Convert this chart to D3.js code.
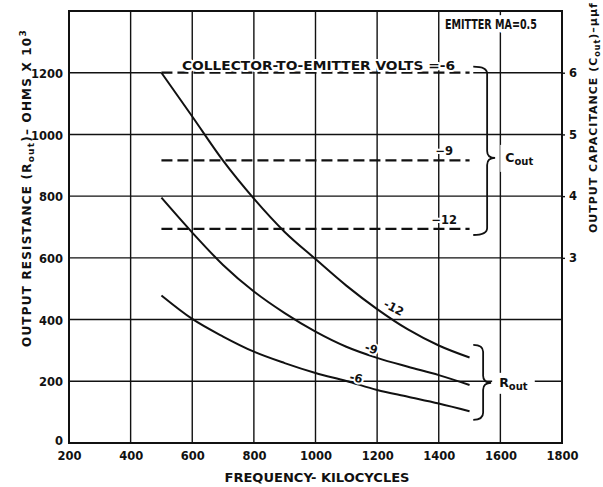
<!DOCTYPE html>
<html>
<head>
<meta charset="utf-8">
<script src="https://cdn.jsdelivr.net/npm/d3@7"></script>
<style>
  body { margin: 0; background: #fff; }
  svg { display: block; font-family: "DejaVu Sans", sans-serif; font-weight: bold; }
</style>
</head>
<body>
<div id="chart"></div>
<script>
////////////////////////////////////////////////////////////////
// Data
const freqs = [500, 600, 700, 800, 900, 1000, 1100, 1200, 1300, 1400, 1500]; // kc
const rout6 = [478, 402, 345, 296, 259, 227, 201, 172, 150, 128, 103];       // ohms x 10^3
const rout9 = [795, 682, 577, 491, 421, 361, 312, 276, 247, 220, 188];
const rout12 = [1200, 1058, 915, 792, 684, 596, 510, 434, 368, 316, 277];
const voltNames = ["-6", "-9", "-12"];
const coutPf = [6.0, 4.58, 3.47];          // output capacitance, uuf
const coutFreqs = [500, 1500];             // span of the dashed lines
const xTicks = [200, 400, 600, 800, 1000, 1200, 1400, 1600, 1800];
const yTicks = [0, 200, 400, 600, 800, 1000, 1200];
const capTicks = [3, 4, 5, 6];

////////////////////////////////////////////////////////////////
// Layout
const width = 603, height = 487;
const margin = { top: 11, right: 41, bottom: 44, left: 69 };
const x = d3.scaleLinear([200, 1800], [margin.left, width - margin.right]);
const y = d3.scaleLinear([0, 1400], [height - margin.bottom, margin.top]);
const yCap = d3.scaleLinear([0, 7], [height - margin.bottom, margin.top]);
const ink = "#111";

const svg = d3.select("#chart").append("svg")
  .attr("width", width).attr("height", height)
  .attr("viewBox", [0, 0, width, height]);

svg.append("rect").attr("width", width).attr("height", height).attr("fill", "#fff");

// white halo so labels break the grid like on the original sheet
const halo = (sel, w = 5) => sel
  .attr("stroke", "#fff").attr("stroke-width", w)
  .attr("paint-order", "stroke").attr("stroke-linejoin", "round");

////////////////////////////////////////////////////////////////
// Grid
svg.append("g").selectAll("line")
  .data(yTicks.slice(1))
  .join("line")
  .attr("x1", x(200)).attr("x2", x(1800))
  .attr("y1", d => y(d)).attr("y2", d => y(d))
  .attr("stroke", ink).attr("stroke-width", 1.4);

// the -6 capacitance line sits on the 1200 grid line: blank it out underneath
svg.append("line")
  .attr("x1", x(coutFreqs[0])).attr("x2", x(1512))
  .attr("y1", yCap(coutPf[0])).attr("y2", yCap(coutPf[0]))
  .attr("stroke", "#fff").attr("stroke-width", 4);

svg.append("g").selectAll("line")
  .data(xTicks.slice(1, -1))
  .join("line")
  .attr("x1", d => x(d)).attr("x2", d => x(d))
  .attr("y1", y(0)).attr("y2", y(1400))
  .attr("stroke", ink).attr("stroke-width", 1.4);

// frame
svg.append("rect")
  .attr("x", x(200)).attr("y", y(1400))
  .attr("width", x(1800) - x(200)).attr("height", y(0) - y(1400))
  .attr("fill", "none").attr("stroke", ink).attr("stroke-width", 2);

////////////////////////////////////////////////////////////////
// Axes labels
const axL = svg.append("g")
  .attr("transform", `translate(${margin.left},0)`)
  .call(d3.axisLeft(y).tickValues(yTicks).tickSize(0).tickPadding(6).tickFormat(d3.format("d")));
axL.select(".domain").remove();
axL.selectAll(".tick text").attr("dy", d => d === 0 ? "0.15em" : "0.4em");

const axB = svg.append("g")
  .attr("transform", `translate(0,${y(0)})`)
  .call(d3.axisBottom(x).tickValues(xTicks).tickSize(0).tickPadding(9).tickFormat(d3.format("d")));
axB.select(".domain").remove();

const axR = svg.append("g")
  .attr("transform", `translate(${x(1800)},0)`)
  .call(d3.axisRight(yCap).tickValues(capTicks).tickSize(3).tickPadding(4).tickFormat(d3.format("d")));
axR.select(".domain").remove();
axR.selectAll("line").attr("stroke", ink).attr("stroke-width", 1.4);

svg.selectAll(".tick text")
  .attr("fill", ink)
  .style("font-family", "DejaVu Sans")
  .style("font-weight", "bold")
  .style("font-size", "11.5px");

////////////////////////////////////////////////////////////////
// Capacitance (dashed) lines
const cout = voltNames.map((v, i) => ({ name: v, pf: coutPf[i] }));

svg.append("g").selectAll("line")
  .data(cout)
  .join("line")
  .attr("x1", x(coutFreqs[0])).attr("x2", x(coutFreqs[1]))
  .attr("y1", d => yCap(d.pf)).attr("y2", d => yCap(d.pf))
  .attr("stroke", ink).attr("stroke-width", 2.2)
  .attr("stroke-dasharray", "11 5");

svg.append("g").selectAll("text")
  .data(cout.slice(1))
  .join("text")
  .attr("x", x(1418)).attr("y", d => yCap(d.pf) - 5)
  .attr("text-anchor", "middle")
  .attr("font-size", 11.5).attr("fill", ink)
  .text(d => d.name.replace("-", "−"))
  .call(halo, 4);

svg.append("text")
  .attr("x", 182).attr("y", yCap(coutPf[0]) - 3)
  .attr("font-size", 12.5).attr("fill", ink)
  .attr("textLength", 273).attr("lengthAdjust", "spacingAndGlyphs")
  .text("COLLECTOR-TO-EMITTER VOLTS =-6")
  .call(halo, 4);

////////////////////////////////////////////////////////////////
// Output resistance curves
const rout = [
  { name: "-6", values: rout6, label: [1132, 211], angle: 12 },
  { name: "-9", values: rout9, label: [1181, 306], angle: 18 },
  { name: "-12", values: rout12, label: [1254, 438], angle: 28 }
];

const line = d3.line()
  .x((d, i) => x(freqs[i]))
  .y(d => y(d))
  .curve(d3.curveMonotoneX);

svg.append("g").selectAll("path")
  .data(rout)
  .join("path")
  .attr("d", d => line(d.values))
  .attr("fill", "none").attr("stroke", ink).attr("stroke-width", 2);

svg.append("g").selectAll("text")
  .data(rout)
  .join("text")
  .attr("transform", d => `translate(${x(d.label[0])},${y(d.label[1])}) rotate(${d.angle})`)
  .attr("text-anchor", "middle").attr("dy", "0.35em")
  .attr("font-size", 11.5).attr("fill", ink)
  .text(d => d.name)
  .call(halo, 4);

////////////////////////////////////////////////////////////////
// Braces
const brace = (x0, xs, xt, y0, ym, y1) => {
  const r = 7;
  return `M${x0},${y0} Q${xs},${y0} ${xs},${y0 + r} L${xs},${ym - r} Q${xs},${ym} ${xt},${ym}`
    + ` Q${xs},${ym} ${xs},${ym + r} L${xs},${y1 - r} Q${xs},${y1} ${x0},${y1}`;
};

svg.append("path")
  .attr("d", brace(x(1512), x(1557), x(1583), yCap(6.1), yCap(4.62), yCap(3.37)))
  .attr("fill", "none").attr("stroke", ink).attr("stroke-width", 1.8);

svg.append("path")
  .attr("d", brace(x(1512), x(1544), x(1570), y(318), y(195), y(75)))
  .attr("fill", "none").attr("stroke", ink).attr("stroke-width", 1.8);

// letter with "out" subscript, on a white patch that breaks the grid
const subLabel = (px, py, main, sub, padX, padY) => {
  const g = svg.append("g");
  const t = g.append("text")
    .attr("x", px).attr("y", py)
    .attr("font-size", 12.5).attr("fill", ink);
  t.append("tspan").text(main);
  t.append("tspan").attr("font-size", 10).attr("dy", 3).text(sub);
  const b = t.node().getBBox();
  g.insert("rect", "text")
    .attr("x", b.x - padX).attr("y", b.y - padY)
    .attr("width", b.width + 2 * padX).attr("height", b.height + 2 * padY)
    .attr("fill", "#fff");
  return g;
};
subLabel(x(1616), yCap(4.62) + 4, "C", "out", 5, 5);
subLabel(x(1570) + 8, y(195) + 4, "R", "out", 7, 2);

svg.append("text")
  .attr("x", x(1420)).attr("y", y(1341))
  .attr("font-size", 13.5).attr("fill", ink)
  .attr("textLength", 92).attr("lengthAdjust", "spacingAndGlyphs")
  .text("EMITTER  MA=0.5")
  .call(halo, 8);

////////////////////////////////////////////////////////////////
// Axis titles
svg.append("text")
  .attr("x", 317).attr("y", 482)
  .attr("text-anchor", "middle")
  .attr("font-size", 12).attr("fill", ink)
  .attr("textLength", 185).attr("lengthAdjust", "spacingAndGlyphs")
  .text("FREQUENCY- KILOCYCLES");

const leftTitle = svg.append("text")
  .attr("transform", "translate(31,347) rotate(-90)")
  .attr("font-size", 12).attr("letter-spacing", 1.2).attr("fill", ink);
leftTitle.append("tspan").text("OUTPUT  RESISTANCE (R");
leftTitle.append("tspan").attr("font-size", 9).attr("dy", 3).text("out");
leftTitle.append("tspan").attr("dy", -3).text(")– OHMS  X 10");
leftTitle.append("tspan").attr("font-size", 9).attr("dy", -5).text("3");

const rightTitle = svg.append("text")
  .attr("transform", "translate(597,233) rotate(-90)")
  .attr("font-size", 11).attr("letter-spacing", 1).attr("fill", ink);
rightTitle.append("tspan").text("OUTPUT  CAPACITANCE (C");
rightTitle.append("tspan").attr("font-size", 8).attr("dy", 3).text("out");
rightTitle.append("tspan").attr("dy", -3).text(")–μμf");
</script>
</body>
</html>
